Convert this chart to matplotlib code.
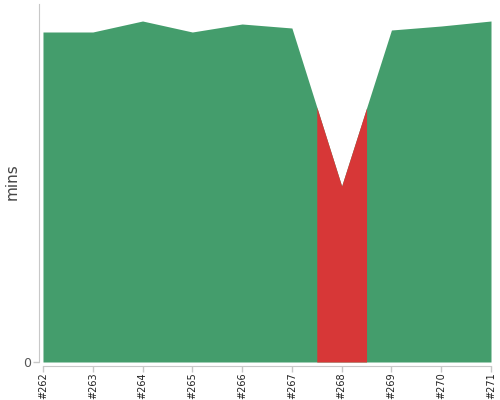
import matplotlib
matplotlib.use("Agg")
import matplotlib.pyplot as plt
import numpy as np

builds = ["#262", "#263", "#264", "#265", "#266", "#267", "#268", "#269", "#270", "#271"]
durations = [33.0, 33.0, 34.1, 33.0, 33.8, 33.4, 17.6, 33.2, 33.6, 34.1]
failed = [False, False, False, False, False, False, True, False, False, False]

green = "#449D6C"
red = "#D73737"
axis_col = "#C8C8C8"

fig = plt.figure(figsize=(5, 4), dpi=100)
W, H = 500, 400
ax = fig.add_axes([39 / W, (H - 366) / H, (491 - 39) / W, (366 - 4) / H])

x = np.arange(len(builds))
y = np.array(durations)
n = len(x)
# base area
ax.fill_between(x, 0, y, color=green, linewidth=0)
# failed builds overlay (half-step on each side)
for i in range(n):
    if failed[i]:
        x0 = max(i - 0.5, 0)
        x1 = min(i + 0.5, n - 1)
        xs = np.linspace(x0, x1, 101)
        ys = np.interp(xs, x, y)
        ax.fill_between(xs, 0, ys, color=red, linewidth=0)

ax.set_xlim(-0.08, n - 1)
ax.set_ylim(-0.4, 35.8)

for s in ["top", "right"]:
    ax.spines[s].set_visible(False)
ax.spines["left"].set_color(axis_col)
ax.spines["bottom"].set_color(axis_col)
ax.spines["left"].set_bounds(0, 35.8)
ax.spines["bottom"].set_bounds(0, n - 1)

ax.set_xticks(x)
ax.set_xticklabels(builds, rotation=90, fontsize=7, color="#222222")
ax.set_yticks([0])
ax.set_yticklabels(["0"], fontsize=9, color="#555555")
ax.tick_params(axis="both", colors=axis_col, length=4, width=1)
ax.tick_params(axis="x", pad=0.5)
ax.tick_params(axis="y", pad=1.5)
for lab in ax.get_xticklabels():
    lab.set_color("#222222")
for lab in ax.get_yticklabels():
    lab.set_color("#555555")
ax.set_ylabel("mins", fontsize=11, color="#444444")
ax.yaxis.set_label_coords(-0.043, 0.51)

fig.savefig("out.png", dpi=100)
